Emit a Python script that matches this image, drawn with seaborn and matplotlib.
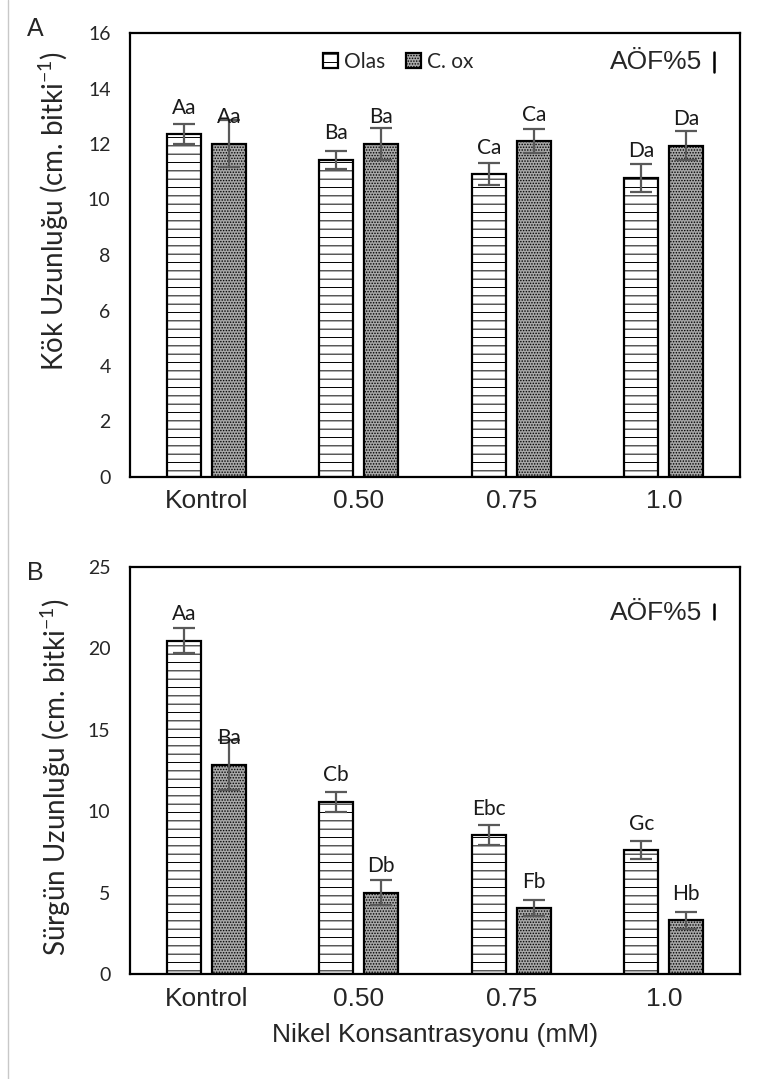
import matplotlib
matplotlib.use("Agg")
import matplotlib.pyplot as plt
import numpy as np
import pandas as pd
import seaborn as sns
from matplotlib.patches import Patch
from matplotlib.lines import Line2D

# ---------------- data ----------------
categories = ["Kontrol", "0.50", "0.75", "1.0"]
series = ["Olas", "C. ox"]

root_olas = [12.35, 11.43, 10.92, 10.78]
root_olas_err = [0.36, 0.33, 0.41, 0.51]
root_cox = [12.01, 12.01, 12.11, 11.94]
root_cox_err = [0.84, 0.57, 0.44, 0.52]
root_olas_lbl = ["Aa", "Ba", "Ca", "Da"]
root_cox_lbl = ["Aa", "Ba", "Ca", "Da"]

shoot_olas = [20.48, 10.58, 8.54, 7.62]
shoot_olas_err = [0.78, 0.60, 0.60, 0.58]
shoot_cox = [12.85, 5.00, 4.04, 3.29]
shoot_cox_err = [1.55, 0.77, 0.49, 0.54]
shoot_olas_lbl = ["Aa", "Cb", "Ebc", "Gc"]
shoot_cox_lbl = ["Ba", "Db", "Fb", "Hb"]

root_yticks = [0, 2, 4, 6, 8, 10, 12, 14, 16]
shoot_yticks = [0, 5, 10, 15, 20, 25]

# ---------------- style ----------------
sns.set_theme(style="white")
plt.rcParams["font.family"] = ["Lato", "DejaVu Sans"]
plt.rcParams["mathtext.fontset"] = "custom"
plt.rcParams["mathtext.rm"] = "Lato"
plt.rcParams["mathtext.it"] = "Lato:italic"
plt.rcParams["hatch.linewidth"] = 0.7

ARIAL = ["Liberation Sans", "DejaVu Sans"]
ERRC = "#595959"
COX = "#a8a8a8"

fig = plt.figure(figsize=(7.58, 10.79), dpi=100)
W, H = 758, 1079


def add_axes_px(left, top, right, bottom):
    return fig.add_axes([left / W, 1 - bottom / H, (right - left) / W, (bottom - top) / H])


axA = add_axes_px(130, 33, 740, 477)
axB = add_axes_px(130, 567, 740, 974)


def panel(ax, olas, olas_err, cox, cox_err, lo, lc, yticks, ylabel, ylab_xy):
    df = pd.DataFrame({
        "cat": categories * 2,
        "series": [series[0]] * len(categories) + [series[1]] * len(categories),
        "val": list(olas) + list(cox),
    })
    sns.barplot(data=df, x="cat", y="val", hue="series", order=categories,
                hue_order=series, palette={"Olas": "white", "C. ox": COX},
                width=0.59, gap=0.25, errorbar=None, edgecolor="black",
                linewidth=1.6, legend=False, ax=ax)
    hatches = ["--", "......"]
    for cont, h, vals, errs, lbls in zip(ax.containers, hatches,
                                         [olas, cox], [olas_err, cox_err], [lo, lc]):
        xs = []
        for p in cont:
            p.set_hatch(h)
            xs.append(p.get_x() + p.get_width() / 2)
        ax.errorbar(xs, vals, yerr=errs, fmt="none", ecolor=ERRC, elinewidth=1.6,
                    capsize=8, capthick=1.6, zorder=5)
        for x, v, t in zip(xs, vals, lbls):
            ax.annotate(t, (x, v), xytext=(0, 19), textcoords="offset points",
                        ha="center", va="center", fontsize=15, color="#1a1a1a",
                        zorder=6)
    ax.set_ylim(yticks[0], yticks[-1])
    ax.set_yticks(yticks)
    ax.set_xlim(-0.5, len(categories) - 0.5)
    ax.tick_params(axis="both", length=0)
    ax.tick_params(axis="y", pad=14, labelsize=14)
    ax.tick_params(axis="x", pad=9, labelsize=19)
    for lab in ax.get_xticklabels():
        lab.set_fontfamily(ARIAL)
    for s in ax.spines.values():
        s.set_color("black")
        s.set_linewidth(1.6)
        s.set_visible(True)
    ax.set_ylabel("")
    ax.set_xlabel("")
    fig.text(ylab_xy[0] / W, 1 - ylab_xy[1] / H, ylabel, rotation=90,
             ha="center", va="center", fontsize=20)


panel(axA, root_olas, root_olas_err, root_cox, root_cox_err, root_olas_lbl,
      root_cox_lbl, root_yticks, "Kök Uzunluğu (cm. bitki$^{-1}$)", (54, 211))
panel(axB, shoot_olas, shoot_olas_err, shoot_cox, shoot_cox_err, shoot_olas_lbl,
      shoot_cox_lbl, shoot_yticks, "Sürgün Uzunluğu (cm. bitki$^{-1}$)", (56, 777))

axB.set_xlabel("Nikel Konsantrasyonu (mM)", fontsize=19, family=ARIAL, labelpad=9)

# legend (panel A)
handles = [Patch(facecolor="white", edgecolor="black", hatch="--", linewidth=1.6),
           Patch(facecolor=COX, edgecolor="black", hatch="......", linewidth=1.6)]
axA.legend(handles, series, loc="center", bbox_to_anchor=(0.44, 0.935), ncol=2,
           frameon=False, fontsize=15, handlelength=0.7, handleheight=0.7,
           handletextpad=0.3, columnspacing=1.0)

# AÖF%5 notes
axA.text(0.787, 0.935, "AÖF%5", transform=axA.transAxes, ha="left", va="center",
         fontsize=19, family=ARIAL)
axA.add_line(Line2D([0.957, 0.957], [0.913, 0.958], transform=axA.transAxes,
                    color="black", lw=1.8))
axB.text(0.787, 0.887, "AÖF%5", transform=axB.transAxes, ha="left", va="center",
         fontsize=19, family=ARIAL)
axB.add_line(Line2D([0.957, 0.957], [0.872, 0.908], transform=axB.transAxes,
                    color="black", lw=1.8))

# panel letters
fig.text(35 / W, 1 - 29 / H, "A", ha="center", va="center", fontsize=18, family=ARIAL)
fig.text(35 / W, 1 - 573 / H, "B", ha="center", va="center", fontsize=18, family=ARIAL)

# faint left border line
fig.add_artist(Line2D([8 / W, 8 / W], [0, 1], transform=fig.transFigure,
                      color="#c8c8c8", lw=1))

fig.savefig("out.png", dpi=100)
